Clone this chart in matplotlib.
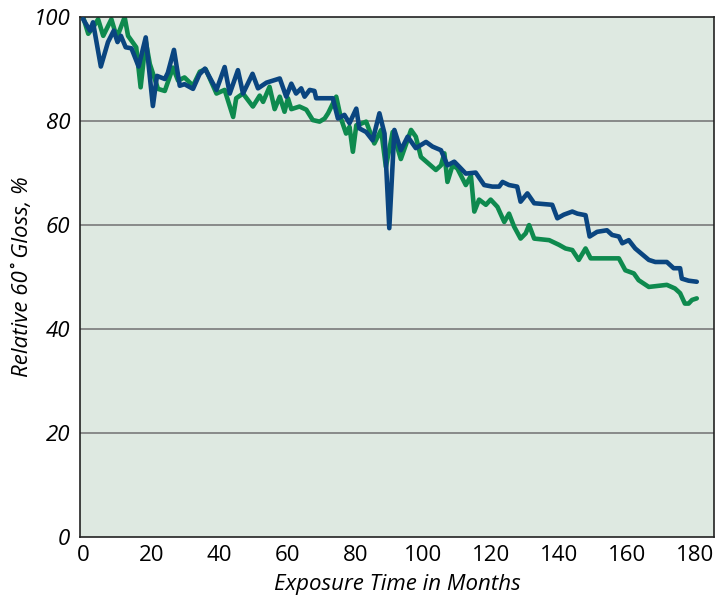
import matplotlib.pyplot as plt

# relative 60 deg gloss vs exposure time, two coatings
months_blue = [0, 2.0, 2.9, 5.2, 7.3, 9.0, 10.1, 11.1, 12.5, 14.2, 16.3, 18.4, 20.5, 21.7,
               24.0, 24.9, 26.7, 28.4, 29.8, 32.3, 34.2, 35.8, 39.2, 41.6, 43.1, 45.5, 47.0,
               49.8, 51.4, 53.9, 57.8, 59.7, 61.2, 62.6, 64.1, 65.1, 66.6, 68.0, 68.5, 73.4,
               74.9, 76.8, 78.3, 80.3, 81.2, 83.2, 85.1, 87.1, 88.6, 90.0, 91.5, 93.4, 95.4,
               97.8, 100.8, 102.7, 105.2, 107.1, 109.1, 110.6, 112.5, 115.4, 117.9, 120.3,
               122.3, 123.3, 125.2, 127.6, 128.6, 130.6, 132.6, 137.9, 139.4, 141.3, 143.8,
               145.3, 147.7, 148.9, 151.1, 154.0, 155.5, 157.5, 158.5, 160.4, 162.3, 166.3,
               168.2, 171.6, 173.6, 175.5, 176.0, 178.0, 180.4]
gloss_blue = [99.6, 97.4, 99.0, 90.5, 95.2, 97.4, 95.2, 96.4, 94.2, 94.0, 90.5, 96.1, 82.9, 88.7,
              88.1, 89.3, 93.7, 86.8, 87.1, 86.2, 89.0, 90.1, 86.0, 90.4, 85.3, 89.8, 85.3,
              89.1, 86.3, 87.4, 88.2, 84.7, 87.2, 85.3, 86.3, 84.7, 86.0, 85.8, 84.4, 84.4,
              80.5, 81.2, 79.6, 82.4, 78.6, 77.9, 76.3, 81.5, 77.6, 59.4, 78.3, 74.4, 77.0,
              74.8, 76.0, 75.1, 74.4, 71.5, 72.2, 71.2, 69.9, 70.1, 67.7, 67.4,
              67.4, 68.3, 67.7, 67.4, 64.5, 66.1, 64.2, 63.9, 61.3, 62.0, 62.6,
              62.2, 61.9, 57.8, 58.7, 59.0, 58.1, 57.8, 56.5, 57.1, 55.5, 53.3,
              52.9, 52.9, 51.7, 51.7, 49.7, 49.3, 49.1]

months_green = [0, 1.5, 2.9, 4.4, 5.9, 8.3, 9.3, 10.3, 12.2, 13.2, 15.6, 16.9, 18.4, 19.6, 22.0,
                24.0, 26.4, 27.9, 29.8, 32.3, 34.3, 36.0, 39.2, 41.6, 44.1, 45.0, 47.0, 49.9,
                51.9, 52.9, 54.8, 56.3, 57.8, 59.2, 60.2, 61.2, 63.6, 65.6, 67.5, 69.5, 71.0,
                72.0, 74.4, 75.8, 77.3, 78.3, 79.3, 80.3, 81.7, 83.2, 85.6, 87.6, 89.0, 91.0,
                93.4, 96.4, 97.8, 99.3, 103.7, 105.2, 106.2, 107.1, 108.6, 110.0, 112.5, 114.0,
                115.0, 116.4, 118.4, 119.8, 121.8, 123.8, 125.2, 126.7, 128.6, 130.1, 131.1,
                132.6, 137.0, 139.9, 141.8, 143.8, 145.7, 147.7, 149.2, 157.5, 159.4, 161.9,
                163.3, 166.3, 171.6, 174.0, 175.5, 176.9, 178.0, 179.0, 180.4]
gloss_green = [100, 96.8, 98.0, 99.6, 96.4, 99.6, 97.4, 96.7, 100, 96.4, 94.2, 86.5, 95.4, 91.0, 86.2,
               85.8, 90.3, 87.8, 88.4, 86.8, 89.5, 90.0, 85.3, 86.0, 80.8, 84.4, 85.3, 82.8,
               84.9, 83.7, 86.6, 82.3, 84.7, 81.8, 84.4, 82.3, 82.8, 82.2, 80.2, 79.9, 80.5,
               81.5, 84.7, 80.5, 77.6, 78.9, 74.1, 79.2, 79.5, 79.9, 75.7, 78.3, 71.2, 77.9,
               72.7, 78.3, 77.0, 73.1, 70.6, 71.5, 73.8, 68.3, 71.5, 70.9, 67.7, 69.5,
               62.6, 64.9, 63.9, 64.9, 63.5, 60.6, 62.2, 59.7, 57.4, 58.4, 60.0,
               57.4, 57.1, 56.2, 55.5, 55.2, 53.3, 55.5, 53.6, 53.6, 51.3, 50.7,
               49.4, 48.1, 48.5, 47.8, 46.9, 44.9, 44.9, 45.6, 45.9]

xticks = [0, 20, 40, 60, 80, 100, 120, 140, 160, 180]
yticks = [0, 20, 40, 60, 80, 100]

fig = plt.figure(figsize=(7.25, 6.01), dpi=100)
ax = fig.add_axes([0.110, 0.1065, 0.875, 0.865])
ax.set_facecolor('#dee9e1')

for y in [20, 40, 60, 80]:
    ax.axhline(y, color='#7a7a7a', lw=1.2, zorder=1)

ax.plot(months_green, gloss_green, color='#0e8a4e', lw=3.3, zorder=2,
        solid_joinstyle='round', solid_capstyle='round')
ax.plot(months_blue, gloss_blue, color='#0a4580', lw=3.3, zorder=3,
        solid_joinstyle='round', solid_capstyle='round')

ax.set_xlim(-1, 185.5)
ax.set_ylim(0, 100)
ax.set_xticks(xticks)
ax.set_yticks(yticks)
ax.set_xticklabels([str(t) for t in xticks], family='Open Sans', fontsize=16)
ax.set_yticklabels([str(t) for t in yticks], family='Open Sans', style='italic', fontsize=16)
ax.tick_params(length=0)
ax.tick_params(axis='x', pad=6)
ax.tick_params(axis='y', pad=7)

for s in ax.spines.values():
    s.set_color('#222222')
    s.set_linewidth(1.2)

ax.set_xlabel('Exposure Time in Months', family='Open Sans', style='italic', fontsize=16,
              va='center')
ax.set_ylabel('Relative 60˚ Gloss, %', family='Open Sans', style='italic', fontsize=16,
              va='center')
ax.xaxis.set_label_coords(0.5, -0.092)
ax.yaxis.set_label_coords(-0.09, 0.5)

fig.savefig('out.png', dpi=100)
